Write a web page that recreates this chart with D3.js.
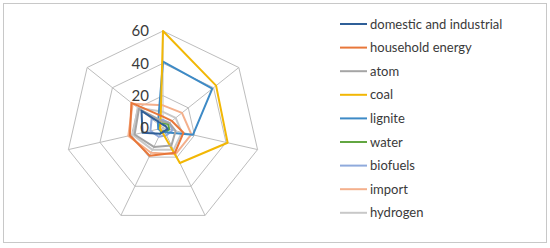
<!DOCTYPE html>
<html>
<head>
<meta charset="utf-8">
<script src="https://cdn.jsdelivr.net/npm/d3@7"></script>
<style>
  body { margin: 0; background: #fff; }
  text { font-family: Lato, "Open Sans", sans-serif; fill: #3a3a3a; }
</style>
</head>
<body>
<svg width="550" height="248"></svg>
<script>
// seven unlabeled spokes, clockwise from top
var axes = [0, 1, 2, 3, 4, 5, 6];
var ticks = [0, 20, 40, 60];

var seriesNames = ["domestic and industrial", "household energy", "atom", "coal",
                   "lignite", "water", "biofuels", "import", "hydrogen"];
var seriesColors = ["#2F5F98", "#E8773A", "#A5A5A5", "#F2B705",
                    "#3D8AC6", "#62A641", "#8FAADC", "#F4B08C", "#C8C8C8"];

var domestic  = [2, 2, 3, 2, 4, 13, 17];
var household = [7, 7, 13, 17, 19, 21, 25];
var atom      = [4, 5, 8, 12, 13, 18, 19];
var coal      = [60, 42, 41, 24, 2, 2, 2];
var lignite   = [41, 39, 19, 3, 2, 3, 4];
var water     = [3, 4, 4, 3, 3, 2, 3];
var biofuels  = [5, 5, 6, 5, 6, 8, 9];
var imports   = [14, 15, 18, 18, 17, 22, 24];
var hydrogen  = [10, 10, 12, 15, 15, 19, 20];

var seriesValues = [domestic, household, atom, coal, lignite, water, biofuels, imports, hydrogen];

var svg = d3.select("svg"),
    cx = 163, cy = 128;

svg.append("rect")
  .attr("x", 3.5).attr("y", 3.5)
  .attr("width", 543).attr("height", 239)
  .attr("fill", "#fff").attr("stroke", "#c8c8c8");

var r = d3.scaleLinear().domain([0, 60]).range([0, 97]);
var angle = d3.scaleLinear().domain([0, axes.length]).range([0, 2 * Math.PI]);

var chart = svg.append("g").attr("transform", "translate(" + cx + "," + cy + ")");

var radial = d3.lineRadial()
  .angle(function(d, i) { return angle(i); })
  .radius(function(d) { return r(d); })
  .curve(d3.curveLinearClosed);

// grid rings
chart.selectAll(".ring")
  .data(ticks.slice(1))
  .enter().append("path")
  .attr("class", "ring")
  .attr("d", function(t) { return radial(axes.map(function() { return t; })); })
  .attr("fill", "none")
  .attr("stroke", "#bdbdbd")
  .attr("stroke-width", 1);

// spokes
chart.selectAll(".spoke")
  .data(axes)
  .enter().append("line")
  .attr("class", "spoke")
  .attr("x1", 0).attr("y1", 0)
  .attr("x2", function(d) { return r(60) * Math.sin(angle(d)); })
  .attr("y2", function(d) { return -r(60) * Math.cos(angle(d)); })
  .attr("stroke", "#bdbdbd")
  .attr("stroke-width", 1);

// series, drawn last-first so the first ones sit on top
var order = d3.range(seriesValues.length).reverse();
chart.selectAll(".series")
  .data(order)
  .enter().append("path")
  .attr("class", "series")
  .attr("d", function(i) { return radial(seriesValues[i]); })
  .attr("fill", "none")
  .attr("stroke", function(i) { return seriesColors[i]; })
  .attr("stroke-width", 2)
  .attr("stroke-linejoin", "round");

// tick labels
chart.selectAll(".tick")
  .data(ticks)
  .enter().append("text")
  .attr("class", "tick")
  .attr("x", -14)
  .attr("y", function(t) { return -r(t); })
  .attr("dy", "0.35em")
  .attr("text-anchor", "end")
  .style("font-size", "15px")
  .text(function(t) { return t; });

// legend
var legend = svg.append("g").attr("transform", "translate(340,24)");
var item = legend.selectAll(".item")
  .data(seriesNames)
  .enter().append("g")
  .attr("class", "item")
  .attr("transform", function(d, i) { return "translate(0," + (i * 23.6) + ")"; });

item.append("line")
  .attr("x1", 0).attr("x2", 27)
  .attr("stroke", function(d, i) { return seriesColors[i]; })
  .attr("stroke-width", 2);

item.append("text")
  .attr("x", 30)
  .attr("dy", "0.35em")
  .style("font-size", "13px")
  .text(function(d) { return d; });
</script>
</body>
</html>
